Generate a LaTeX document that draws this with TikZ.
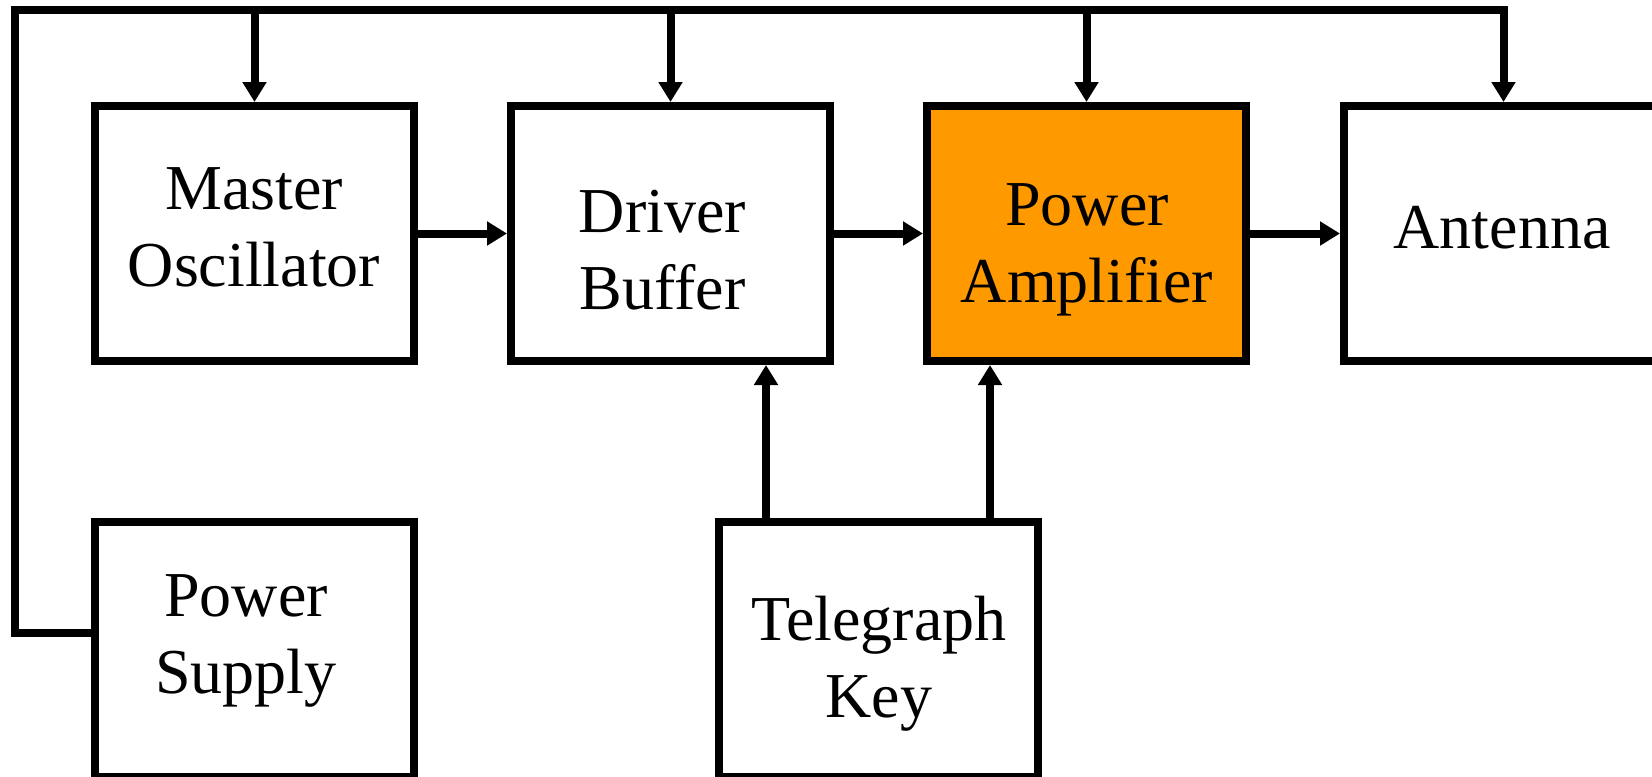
\documentclass[tikz,border=0pt]{standalone}
\usepackage{fontspec}
\setmainfont{Liberation Serif}
\usetikzlibrary{arrows.meta,calc}
\definecolor{paorange}{HTML}{FF9900}
\begin{document}
\begin{tikzpicture}[x=0.5pt,y=-0.5pt,
  blk/.style={draw, line width=4pt, minimum width=159.5pt, minimum height=127.5pt, inner sep=0pt},
  lbl/.style={font=\fontsize{32}{38.5}\selectfont, align=center, anchor=base, inner sep=0pt},
  wire/.style={line width=4pt, line join=miter},
  arr/.style={wire, -{Triangle[length=10pt,width=11.5pt]}}]
\useasboundingbox (0,0) rectangle (1652,776);
\fill[white] (0,0) rectangle (1652,776);
\node[blk] (mo) at (254.5,233.5) {};
\node[blk] (db) at (670.5,233.5) {};
\node[blk, fill=paorange] (pa) at (1086.5,233.5) {};
\node[blk] (ant) at (1503.5,233.5) {};
\node[blk] (ps) at (254.5,649.5) {};
\node[blk] (tk) at (878.5,649.5) {};
\node[lbl] (mot) at (254,286) {Master\\Oscillator};
\node[lbl] (dbt) at (662.5,309) {Driver\\Buffer};
\node[lbl] (pat) at (1087,302) {Power\\Amplifier};
\node[lbl] (antt) at (1502,248) {Antenna};
\node[lbl] (pst) at (246,693) {Power\\Supply};
\node[lbl] (tkt) at (879,717) {Telegraph\\Key};
\coordinate (psout) at (95,633);
\coordinate (busL) at (14.5,9.5);
\draw[arr] (psout) -| (busL) -| (ant.north);
\draw[arr] (mo.north |- busL) -- (mo.north);
\draw[arr] (db.north |- busL) -- (db.north);
\draw[arr] (pa.north |- busL) -- (pa.north);
\draw[arr] (mo) -- (db);
\draw[arr] (db) -- (pa);
\draw[arr] (pa) -- (ant);
\draw[arr] ([xshift=-56.25pt]tk.north) -- ([xshift=-56.25pt]tk.north |- db.south);
\draw[arr] ([xshift=55.75pt]tk.north) -- ([xshift=55.75pt]tk.north |- pa.south);
\end{tikzpicture}
\end{document}
